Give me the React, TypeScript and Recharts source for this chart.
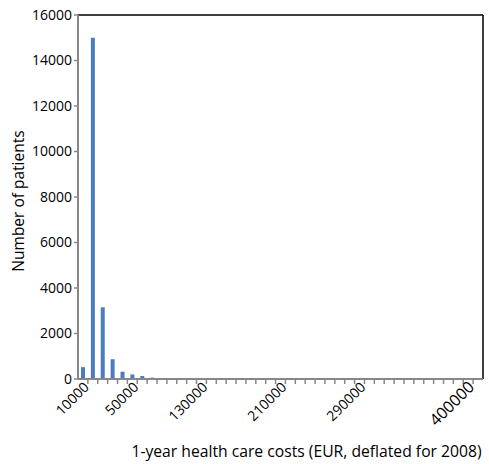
import { BarChart, Bar, XAxis, YAxis, ReferenceLine } from 'recharts';

// patients per cost bin (41 bins)
const patients = [
  520, 15000, 3150, 870, 320, 200, 130, 60, 25, 15, 10, 8, 6, 5, 4, 3, 3, 2, 2, 2, 1,
  1, 1, 1, 1, 1, 1, 0, 0, 0, 1, 0, 0, 0, 0, 0, 0, 0, 0, 0, 1,
];
const yTicks = [0, 2000, 4000, 6000, 8000, 10000, 12000, 14000, 16000];
const xTickLabels = [
  { bin: 0, text: '10000' },
  { bin: 5, text: '50000' },
  { bin: 12, text: '130000' },
  { bin: 20, text: '210000' },
  { bin: 28, text: '290000' },
  { bin: 39, text: '400000' },
];

const data = patients.map((n, i) => ({ bin: i, patients: n }));

const W = 489;
const H = 464;
const LEFT = 78;
const RIGHT = 6;
const band = (W - LEFT - RIGHT) / patients.length;
const FONT = '"Open Sans", sans-serif';
const GREY = '#878787';

function CostTick({ x, y, payload }: any) {
  const i = payload.index;
  const lbl = xTickLabels.find((t) => t.bin === i);
  const big = lbl && lbl.text === '400000';
  const tx = x + 7;
  const ty = y + 9;
  return (
    <g>
      {i < patients.length - 1 && (
        <line x1={x + band / 2} x2={x + band / 2} y1={y} y2={y + 5} stroke={GREY} strokeWidth={1.5} />
      )}
      {lbl && (
        <text
          x={tx}
          y={ty}
          textAnchor="end"
          transform={`rotate(-45, ${tx}, ${ty})`}
          fontSize={big ? 16 : 14}
          fontFamily={FONT}
          fill="#000"
        >
          {lbl.text}
        </text>
      )}
    </g>
  );
}

export default function App() {
  return (
    <div style={{ position: 'absolute', left: 0, top: 0, background: '#fff' }}>
      <BarChart width={W} height={H} data={data} margin={{ top: 15, right: RIGHT, left: 0, bottom: 0 }} barCategoryGap={0}>
        <XAxis
          dataKey="bin"
          interval={0}
          height={85}
          tickLine={false}
          tickSize={0}
          tickMargin={0}
          axisLine={{ stroke: GREY, strokeWidth: 2 }}
          tick={<CostTick />}
          label={{
            value: '1-year health care costs (EUR, deflated for 2008)',
            position: 'insideBottom',
            offset: 7,
            dx: 26,
            style: { fontFamily: FONT, fontSize: 15.7, fill: '#000' },
          }}
        />
        <YAxis
          yAxisId="left"
          width={LEFT}
          domain={[0, 16000]}
          ticks={yTicks}
          interval={0}
          tickSize={4}
          tickMargin={2}
          tickLine={{ stroke: GREY, strokeWidth: 1.5 }}
          axisLine={{ stroke: GREY, strokeWidth: 2 }}
          tick={{ fontFamily: FONT, fontSize: 14, fill: '#000' }}
          label={{
            value: 'Number of patients',
            angle: -90,
            position: 'insideLeft',
            offset: 18,
            dy: 4,
            style: { textAnchor: 'middle', fontFamily: FONT, fontSize: 15.5, fill: '#000' },
          }}
        />
        <ReferenceLine yAxisId="left" y={16000} stroke="#000" strokeWidth={1.5} />
        <ReferenceLine yAxisId="left" x={patients.length - 1} position="end" stroke="#000" strokeWidth={1.5} />
        <Bar dataKey="patients" yAxisId="left" fill="#4A7EBB" barSize={4} isAnimationActive={false} />
      </BarChart>
    </div>
  );
}
